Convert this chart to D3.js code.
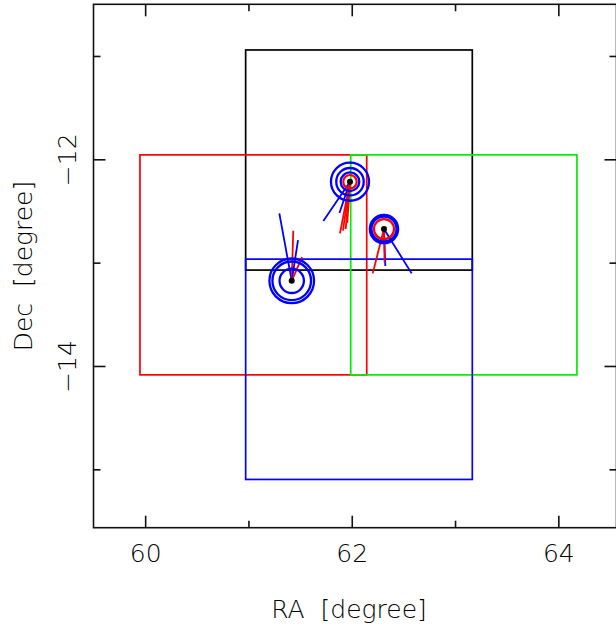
<!DOCTYPE html>
<html>
<head>
<meta charset="utf-8">
<script src="https://cdn.jsdelivr.net/npm/d3@7"></script>
<style>
  body { margin: 0; background: #fff; }
  svg { display: block; }
  text { font-family: "DejaVu Sans", sans-serif; font-weight: 200; fill: #000; white-space: pre; }
</style>
</head>
<body>
<div id="adiv"></div>
<script>
// ---- data ----
var raMajor = [60, 62, 64];
var raMinor = [61, 63];
var decMajor = [-12, -14];
var decMinor = [-11, -13, -15];
var raDomain = [59.5, 64.563];
var decDomain = [-10.5, -15.565];

// fields (drawn in this order)
var fieldNames  = ["black", "red", "green", "blue"];
var fieldRaMin  = [60.973, 59.950, 61.990, 60.973];
var fieldRaMax  = [63.167, 62.145, 64.180, 63.167];
var fieldDecMax = [-10.942, -11.957, -11.957, -12.966];
var fieldDecMin = [-13.072, -14.086, -14.086, -15.098];

// sources
var srcRa  = [61.419, 61.983, 62.312];
var srcDec = [-13.176, -12.217, -12.675];
var srcBlueRadii = [[0.118, 0.187, 0.216], [0.090, 0.133, 0.184], [0.121, 0.137]];
var srcRedRadii  = [[], [0.065], [0.097]];

// vectors: source index, offset in RA, offset in Dec, kind
var vecSrc  = [0, 0, 0, 0, 1, 1, 1, 1, 1, 1, 2, 2, 2, 2];
var vecDRa  = [-0.120, 0.015, 0.061, 0.100, -0.258, -0.102, -0.097, -0.068, -0.042, -0.026, -0.109, 0.013, 0.268, 0.006];
var vecDDec = [0.652, 0.484, 0.394, 0.229, -0.380, -0.303, -0.500, -0.472, -0.458, -0.397, -0.429, -0.358, -0.429, -0.322];
var vecKind = ["b", "r", "b", "r", "b", "b", "r", "r", "r", "r", "r", "b", "b", "r"];

var colors = { black: "#000", red: "#ff0000", green: "#00ee00", blue: "#0000ff", r: "#ff0000", b: "#0000ff" };

var W = 616, H = 633;
var pL = 93.5, pR = 616.5, pT = 4.3, pB = 527.7;

var svg = d3.select("#adiv").append("svg").attr("width", W).attr("height", H);

var x = d3.scaleLinear().domain(raDomain).range([pL, pR]);
var y = d3.scaleLinear().domain(decDomain).range([pT, pB]);

function fmt(d) { return d < 0 ? "\u2212" + Math.abs(d) : "" + d; }

// axes, ticks pointing inwards
function addAxis(axisFn, vals, size, pos, labels) {
  var horiz = (axisFn === d3.axisBottom || axisFn === d3.axisTop);
  var a = axisFn(horiz ? x : y)
    .tickValues(vals).tickSizeInner(-size).tickSizeOuter(0)
    .tickFormat(labels ? fmt : "").tickPadding(17);
  var g = svg.append("g").attr("transform", pos).call(a);
  g.select(".domain").remove();
  g.selectAll("line").attr("stroke", "#111").attr("stroke-width", 1.6);
  g.selectAll("text").attr("font-family", null).attr("font-size", 25).attr("fill", "#000");
  return g;
}
addAxis(d3.axisBottom, raMajor, 12, "translate(0," + pB + ")", true);
addAxis(d3.axisBottom, raMinor, 7, "translate(0," + pB + ")", false);
addAxis(d3.axisTop, raMajor, 12, "translate(0," + pT + ")", false);
addAxis(d3.axisTop, raMinor, 7, "translate(0," + pT + ")", false);
var gl = addAxis(d3.axisLeft, decMajor, 12, "translate(" + pL + ",0)", true);
gl.selectAll("text").attr("x", 0).attr("dy", 0).attr("text-anchor", "middle")
  .attr("transform", "translate(-17.5,0) rotate(-90)");
addAxis(d3.axisLeft, decMinor, 7, "translate(" + pL + ",0)", false);
addAxis(d3.axisRight, decMajor, 12, "translate(" + pR + ",0)", false);
addAxis(d3.axisRight, decMinor, 7, "translate(" + pR + ",0)", false);

// frame
svg.append("rect")
  .attr("x", pL).attr("y", pT)
  .attr("width", pR - pL).attr("height", pB - pT)
  .attr("fill", "none").attr("stroke", "#111").attr("stroke-width", 1.6);

// axis titles
svg.append("text").attr("x", 349).attr("y", 618).attr("text-anchor", "middle")
  .attr("font-size", 25).text("RA  [degree]");
svg.append("text").attr("transform", "translate(32,266) rotate(-90)")
  .attr("text-anchor", "middle").attr("font-size", 25).text("Dec  [degree]");

// fields
fieldNames.forEach(function (n, i) {
  svg.append("rect")
    .attr("x", x(fieldRaMin[i])).attr("y", y(fieldDecMax[i]))
    .attr("width", x(fieldRaMax[i]) - x(fieldRaMin[i]))
    .attr("height", y(fieldDecMin[i]) - y(fieldDecMax[i]))
    .attr("fill", "none").attr("stroke", colors[n]).attr("stroke-width", 1.7);
});

// vectors
var vg = svg.append("g");
vecSrc.forEach(function (s, i) {
  vg.append("line")
    .attr("x1", x(srcRa[s])).attr("y1", y(srcDec[s]))
    .attr("x2", x(srcRa[s] + vecDRa[i])).attr("y2", y(srcDec[s] + vecDDec[i]))
    .attr("stroke", colors[vecKind[i]]).attr("stroke-width", 1.8);
});

// error circles
var pxPerDeg = x(1) - x(0);
srcRa.forEach(function (ra, s) {
  srcRedRadii[s].forEach(function (r) {
    svg.append("circle").attr("cx", x(ra)).attr("cy", y(srcDec[s]))
      .attr("r", r * pxPerDeg).attr("fill", "none")
      .attr("stroke", colors.r).attr("stroke-width", 2.2);
  });
  srcBlueRadii[s].forEach(function (r) {
    svg.append("circle").attr("cx", x(ra)).attr("cy", y(srcDec[s]))
      .attr("r", r * pxPerDeg).attr("fill", "none")
      .attr("stroke", colors.b).attr("stroke-width", 2.3);
  });
  svg.append("circle").attr("cx", x(ra)).attr("cy", y(srcDec[s]))
    .attr("r", 3).attr("fill", "#000");
});
</script>
</body>
</html>
